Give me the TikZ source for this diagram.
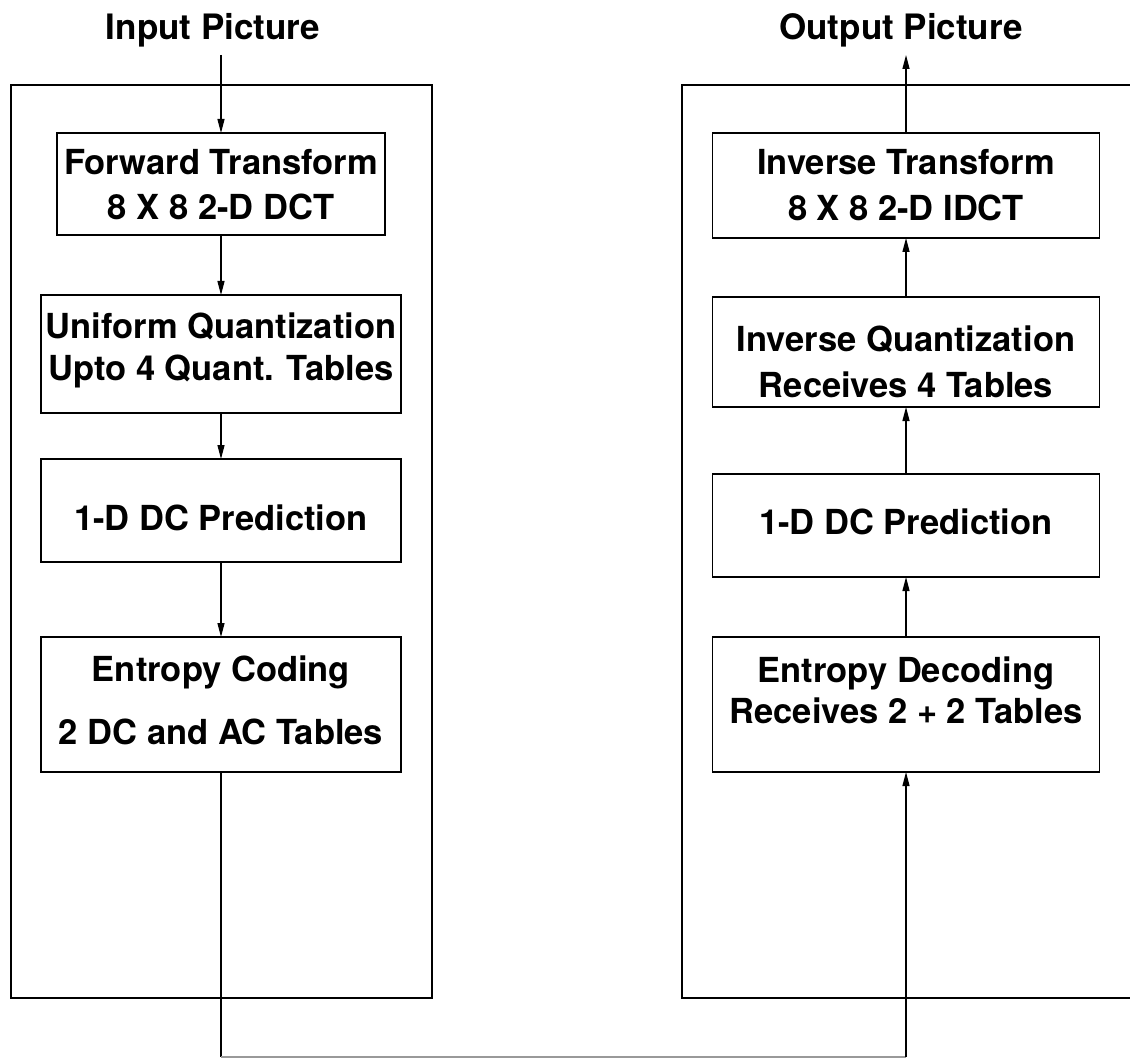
\documentclass[tikz,border=0pt]{standalone}
\usepackage{fontspec}
\setmainfont{TeX Gyre Heros}
\usetikzlibrary{arrows.meta}
\begin{document}
\begin{tikzpicture}[x=1pt,y=-1pt,
  box/.style={draw, line width=1.3pt, inner sep=0pt, outer sep=0pt},
  frame/.style={draw, line width=1.3pt, inner sep=0pt, outer sep=0pt},
  txt/.style={font=\fontsize{34.5}{40}\selectfont\bfseries, anchor=base, inner sep=0pt},
  ttl/.style={font=\fontsize{35}{40}\selectfont\bfseries, anchor=base, inner sep=0pt},
  conn/.style={line width=1.3pt},
  faint/.style={line width=1.3pt, draw=black!40},
  arr/.style={line width=1.3pt, -{Triangle[length=14pt,width=7pt]}}]
\useasboundingbox (0,0) rectangle (1130,1059);
\clip (0,0) rectangle (1130,1059);

% titles
\node[ttl] (tin) at (213,40) {Input Picture};
\node[ttl] (tout) at (901,40) {Output Picture};

% outer frames
\node[frame, minimum width=421pt, minimum height=913pt] (lframe) at (221.5,541.5) {};
\node[frame, minimum width=450pt, minimum height=913pt] (rframe) at (907,541.5) {};

% left column boxes
\node[box, minimum width=328pt, minimum height=102pt] (lb1) at (221,184) {};
\node[box, minimum width=360pt, minimum height=118pt] (lb2) at (221,354) {};
\node[box, minimum width=360pt, minimum height=103pt] (lb3) at (221,510.5) {};
\node[box, minimum width=360pt, minimum height=135pt] (lb4) at (221,704.5) {};

% right column boxes
\node[box, minimum width=387pt, minimum height=105pt] (rb1) at (906,185.5) {};
\node[box, minimum width=387pt, minimum height=110pt] (rb2) at (906,352) {};
\node[box, minimum width=387pt, minimum height=103pt] (rb3) at (906,525.5) {};
\node[box, minimum width=387pt, minimum height=135pt] (rb4) at (906,704.5) {};

% left texts
\node[txt] (lb1a) at (221,175) {Forward Transform};
\node[txt] (lb1b) at (221,220) {8 X 8 2-D DCT};
\node[txt] (lb2a) at (221,339) {Uniform Quantization};
\node[txt] (lb2b) at (221,381) {Upto 4 Quant. Tables};
\node[txt] (lb3a) at (221,530) {1-D DC Prediction};
\node[txt] (lb4a) at (221,681) {Entropy Coding};
\node[txt] (lb4b) at (221,744) {2 DC and AC Tables};

% right texts
\node[txt] (rb1a) at (906,175) {Inverse Transform};
\node[txt] (rb1b) at (906,221) {8 X 8 2-D IDCT};
\node[txt] (rb2a) at (906,352) {Inverse Quantization};
\node[txt] (rb2b) at (906,397) {Receives 4 Tables};
\node[txt] (rb3a) at (906,534) {1-D DC Prediction};
\node[txt] (rb4a) at (906,682) {Entropy Decoding};
\node[txt] (rb4b) at (906,723) {Receives 2 + 2 Tables};

% connectors
\coordinate (inTop) at (221,55);
\coordinate (outTop) at (906,55);
\coordinate (bl) at (221,1057);
\coordinate (br) at (906,1057);

\draw[arr] (inTop) -- (lb1.north);
\draw[arr] (lb1.south) -- (lb2.north);
\draw[arr] (lb2.south) -- (lb3.north);
\draw[arr] (lb3.south) -- (lb4.north);
\draw[conn] (lb4.south) -- (bl);
\draw[faint] (bl) -- (br);
\draw[arr] (br) -- (rb4.south);
\draw[arr] (rb4.north) -- (rb3.south);
\draw[arr] (rb3.north) -- (rb2.south);
\draw[arr] (rb2.north) -- (rb1.south);
\draw[arr] (rb1.north) -- (outTop);
\end{tikzpicture}
\end{document}
